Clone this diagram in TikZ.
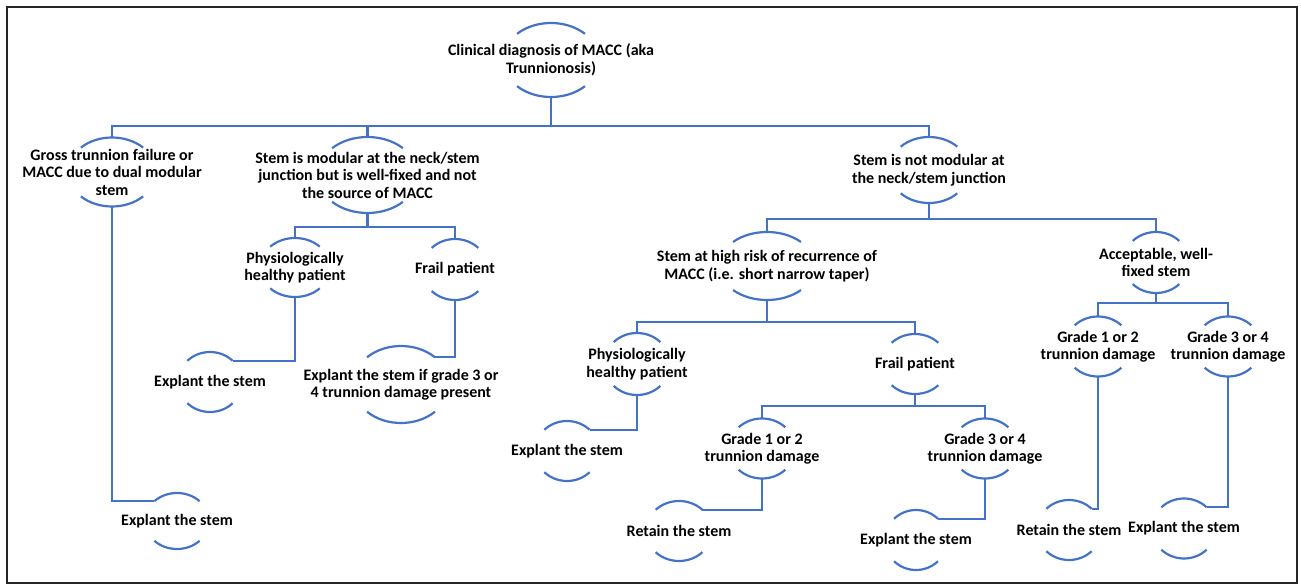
\documentclass[tikz,border=0pt]{standalone}
\usepackage{fontspec}
\setmainfont{Carlito}
\usetikzlibrary{positioning}
\definecolor{linkblue}{RGB}{68,114,196}
\tikzset{link/.style={draw=linkblue, line width=2.2pt}}
\tikzset{ring/.style 2 args={align=center, inner sep=0pt, minimum height=2*#2pt,
    font=\fontsize{16}{17.5}\selectfont\bfseries,
    append after command={\pgfextra{\edef\ringnode{\tikzlastnode}
      \draw[link] ([shift={(45:#1pt and #2pt)}]\ringnode.center) coordinate (\ringnode-ne)
        arc[start angle=45, end angle=135, x radius=#1pt, y radius=#2pt] coordinate (\ringnode-nw)
        ([shift={(225:#1pt and #2pt)}]\ringnode.center)
        arc[start angle=225, end angle=315, x radius=#1pt, y radius=#2pt];}}}}

\begin{document}
\begin{tikzpicture}[x=1pt, y=1pt, on grid]
            \useasboundingbox (0,0) rectangle (1301,-586);
            \draw[line width=1.2pt, black!85] (7,-7) rectangle (1297,-583);

            \node[ring={48}{37}] (root) at (551,-60) {Clinical diagnosis of MACC (aka\\Trunnionosis)};
            \node[ring={44}{34.5}] (gross) [below left = 112pt and 439pt of root] {Gross trunnion failure or\\MACC due to dual modular\\stem};
            \node[ring={50}{38}] (modular) [below left = 115pt and 183.5pt of root] {Stem is modular at the neck/stem\\junction but is well-fixed and not\\the source of MACC};
            \node[ring={40}{33}] (notmod) [below right = 110pt and 378pt of root] {Stem is not modular at\\the neck/stem junction};

            \node[ring={35}{29.5}] (healthy1) [below left = 92.5pt and 72.5pt of modular] {Physiologically\\healthy patient};
            \node[ring={33}{30.5}] (frail1) [below right = 94.5pt and 87.5pt of modular] {Frail patient};
            \node[ring={32}{28}] (explA) [below right = 349pt and 65pt of gross] {Explant the stem};
            \node[ring={32}{30}] (expl1) [below left = 114.5pt and 85pt of healthy1] {Explant the stem};
            \node[ring={48}{38.5}] (expl2) [below left = 115pt and 54pt of frail1] {Explant the stem if grade 3 or\\4 trunnion damage present};

            \node[ring={48}{34}] (risk) [below left = 96pt and 162pt of notmod] {Stem at high risk of recurrence of\\MACC (i.e. short narrow taper)};
            \node[ring={33}{30.5}] (accept) [below right = 92.5pt and 227pt of notmod] {Acceptable, well-\\fixed stem};
            \node[ring={33}{31}] (healthy2) [below left = 98pt and 130pt of risk] {Physiologically\\healthy patient};
            \node[ring={33}{30}] (frail2) [below right = 98pt and 148pt of risk] {Frail patient};
            \node[ring={32}{30}] (expl3) [below left = 87pt and 70pt of healthy2] {Explant the stem};
            \node[ring={33}{30}] (g12a) [below left = 84.5pt and 153pt of frail2] {Grade 1 or 2\\trunnion damage};
            \node[ring={33}{30}] (g34a) [below right = 84.5pt and 70pt of frail2] {Grade 3 or 4\\trunnion damage};
            \node[ring={33}{30}] (retainA) [below left = 82.5pt and 83pt of g12a] {Retain the stem};
            \node[ring={31}{30}] (expl4) [below left = 91.5pt and 69pt of g34a] {Explant the stem};
            \node[ring={33}{30}] (g12b) [below left = 84pt and 58pt of accept] {Grade 1 or 2\\trunnion damage};
            \node[ring={33}{30}] (g34b) [below right = 84pt and 72pt of accept] {Grade 3 or 4\\trunnion damage};
            \node[ring={32}{30}] (retainB) [below left = 183.5pt and 29pt of g12b] {Retain the stem};
            \node[ring={32}{30}] (expl5) [below left = 182pt and 44pt of g34b] {Explant the stem};

            \path[link]
            (root.south) -- ++(0,-29) -| (gross.north)
            (root.south) -- ++(0,-29) -| (modular.north)
            (root.south) -- ++(0,-29) -| (notmod.north)
            (modular.south) -- ++(0,-14) -| (healthy1.north)
            (modular.south) -- ++(0,-14) -| (frail1.north)
            (notmod.south) -- ++(0,-16) -| (risk.north)
            (notmod.south) -- ++(0,-16) -| (accept.north)
            (risk.south) -- ++(0,-22) -| (healthy2.north)
            (risk.south) -- ++(0,-22) -| (frail2.north)
            (frail2.south) -- ++(0,-12) -| (g12a.north)
            (frail2.south) -- ++(0,-12) -| (g34a.north)
            (accept.south) -- ++(0,-10) -| (g12b.north)
            (accept.south) -- ++(0,-10) -| (g34b.north)
            (gross.south) |- (explA-nw)
            (healthy1.south) |- (expl1-ne)
            (frail1.south) |- (expl2-ne)
            (healthy2.south) |- (expl3-ne)
            (g12a.south) |- (retainA-ne)
            (g34a.south) |- (expl4-ne)
            (g12b.south) |- (retainB-ne)
            (g34b.south) |- (expl5-ne);
        \end{tikzpicture}
\end{document}
